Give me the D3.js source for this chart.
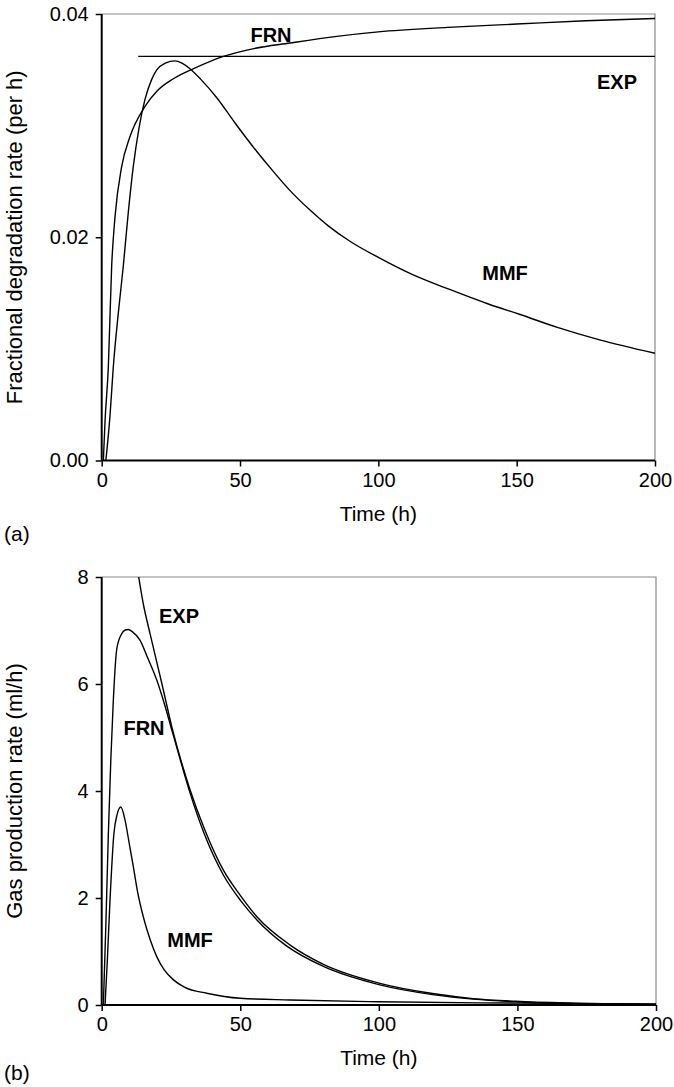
<!DOCTYPE html>
<html><head><meta charset="utf-8">
<script src="https://cdn.jsdelivr.net/npm/d3@7/dist/d3.min.js"></script>
<style>
body{margin:0;background:#fff;}
svg{display:block;}
text{font-family:"Liberation Sans",Arial,Helvetica,sans-serif;fill:#000;}
</style></head>
<body>
<svg id="chart" width="674" height="1087"></svg>
<script>
// ---------- Data ----------
// Panel (a): fractional degradation rate (per h)
const tFrnA = [0.6, 1.2, 2.4, 3.6, 4.8, 7.2, 10.2, 15.6, 20, 25.9, 35, 44, 55, 68, 85, 100, 125, 150, 175, 200];
const rateFrnA = [0, 0.0035, 0.0084, 0.0174, 0.0218, 0.0263, 0.0290, 0.0317, 0.0331, 0.0342, 0.0353, 0.0362, 0.0369, 0.0374, 0.0380, 0.0384, 0.0388, 0.0391, 0.0394, 0.0396];
const tMmfA = [1.5, 3, 4.2, 6, 7.8, 9.6, 11.4, 13.5, 15.6, 18, 19.9, 23, 26.5, 29, 31.9, 36, 41.6, 48, 56, 62, 68, 75, 82, 90, 100, 112, 126, 140, 151, 165, 180, 200];
const rateMmfA = [0, 0.0040, 0.0084, 0.0132, 0.0174, 0.0222, 0.0263, 0.0298, 0.0323, 0.0341, 0.0350, 0.0356, 0.0358, 0.0356, 0.0351, 0.0341, 0.0325, 0.0303, 0.0277, 0.0259, 0.0242, 0.0225, 0.0210, 0.0196, 0.0182, 0.0167, 0.0153, 0.0140, 0.0131, 0.0119, 0.0108, 0.0096];
const tExpA = [13.2, 200];
const rateExpA = [0.0362, 0.0362];

// Panel (b): gas production rate (ml/h)
const tExpB = [13.2, 15, 17.4, 21.7, 25.3, 31.9, 37, 43.9, 50, 56, 68, 80, 100, 120, 134, 151, 175, 200];
const gasExpB = [8.05, 7.5, 6.95, 6.01, 5.2, 4.02, 3.3, 2.52, 2.05, 1.65, 1.12, 0.76, 0.41, 0.21, 0.12, 0.065, 0.03, 0.012];
const tFrnB = [0.6, 1.5, 2.4, 3.3, 4.2, 5.4, 7, 8.5, 9.6, 11, 13.8, 16.5, 19.9, 22.5, 25.3, 28, 31.9, 37, 43.9, 50, 56, 66.8, 80, 100, 120, 134, 151, 175, 200];
const gasFrnB = [0, 1.5, 3.2, 4.6, 5.7, 6.64, 6.92, 7.01, 7.02, 6.98, 6.82, 6.5, 6.07, 5.65, 5.14, 4.65, 3.96, 3.2, 2.43, 1.96, 1.59, 1.10, 0.72, 0.38, 0.19, 0.11, 0.055, 0.022, 0.008];
const tMmfB = [1.2, 2, 3, 4.4, 5.5, 6.9, 8.4, 10, 11.4, 13, 15, 17.5, 19.9, 22.5, 25.9, 30, 37.9, 50, 68, 100, 150, 200];
const gasMmfB = [0, 0.8, 1.96, 3.2, 3.55, 3.70, 3.46, 3.0, 2.59, 2.1, 1.65, 1.22, 0.90, 0.66, 0.47, 0.33, 0.22, 0.125, 0.094, 0.06, 0.035, 0.02];

const xTicks = [0, 50, 100, 150, 200];
const yTicksA = [0, 0.02, 0.04];
const yTicksB = [0, 2, 4, 6, 8];

// ---------- Drawing ----------
const svg = d3.select("#chart");
const zip = (xs, ys) => xs.map((x, i) => [x, ys[i]]);

function panel(cfg) {
  const x = d3.scaleLinear().domain([0, 200]).range([cfg.left, cfg.right]);
  const y = d3.scaleLinear().domain(cfg.yDomain).range([cfg.bottom, cfg.top]);
  const g = svg.append("g");
  const clipId = "clip" + cfg.id;
  svg.append("clipPath").attr("id", clipId).append("rect")
    .attr("x", cfg.left).attr("y", cfg.top)
    .attr("width", cfg.right - cfg.left).attr("height", cfg.bottom - cfg.top);

  g.append("path")
    .attr("d", `M${cfg.left},${cfg.top}H${cfg.right}V${cfg.bottom}`)
    .attr("fill", "none").attr("stroke", "#8a8a8a").attr("stroke-width", 1.2);

  const line = d3.line().x(d => x(d[0])).y(d => y(d[1])).curve(d3.curveMonotoneX);
  const lines = g.append("g").attr("clip-path", `url(#${clipId})`);
  cfg.series.forEach(s => {
    lines.append("path").attr("d", line(s))
      .attr("fill", "none").attr("stroke", "#000").attr("stroke-width", 1.4);
  });

  const xAxis = g.append("g").attr("transform", `translate(0,${cfg.bottom})`)
    .call(d3.axisBottom(x).tickValues(xTicks).tickSize(6).tickPadding(6).tickFormat(d3.format("d")));
  const yAxis = g.append("g").attr("transform", `translate(${cfg.left},0)`)
    .call(d3.axisLeft(y).tickValues(cfg.yTicks).tickSize(6).tickPadding(7).tickFormat(cfg.yFormat));
  [xAxis, yAxis].forEach(a => {
    a.select(".domain").attr("stroke", "#000").attr("stroke-width", 2);
    a.selectAll(".tick line").attr("stroke", "#000").attr("stroke-width", 1.5);
    a.selectAll("text").attr("font-size", 20).attr("font-family", '"Liberation Sans",Arial,sans-serif').attr("fill", "#000");
  });
  xAxis.select(".domain").attr("d", `M${cfg.left},0H${cfg.right}`);
  yAxis.select(".domain").attr("d", `M0,${cfg.bottom}V${cfg.top}`);

  g.append("text").attr("x", (cfg.left + cfg.right) / 2).attr("y", cfg.bottom + 60)
    .attr("text-anchor", "middle").attr("font-size", 21).text("Time (h)");
  g.append("text")
    .attr("transform", `translate(22,${(cfg.top + cfg.bottom) / 2}) rotate(-90)`)
    .attr("text-anchor", "middle").attr("font-size", 22).text(cfg.yTitle);
  g.append("text").attr("x", 4).attr("y", cfg.letterY).attr("font-size", 21).text(cfg.letter);

  cfg.labels.forEach(l => {
    g.append("text").attr("x", l[1]).attr("y", l[2]).attr("text-anchor", "middle")
      .attr("font-size", 20).attr("font-weight", "bold").text(l[0]);
  });
}

panel({
  id: "a", left: 101.7, right: 655, top: 14, bottom: 460.5,
  yDomain: [0, 0.04], yTicks: yTicksA, yFormat: d3.format(".2f"),
  yTitle: "Fractional degradation rate (per h)", letter: "(a)", letterY: 541,
  series: [zip(tFrnA, rateFrnA), zip(tMmfA, rateMmfA), zip(tExpA, rateExpA)],
  labels: [["FRN", 271, 42], ["EXP", 617, 89], ["MMF", 505, 280]]
});
panel({
  id: "b", left: 101.7, right: 656, top: 577, bottom: 1005,
  yDomain: [0, 8], yTicks: yTicksB, yFormat: d3.format("d"),
  yTitle: "Gas production rate (ml/h)", letter: "(b)", letterY: 1080,
  series: [zip(tExpB, gasExpB), zip(tFrnB, gasFrnB), zip(tMmfB, gasMmfB)],
  labels: [["EXP", 179, 623], ["FRN", 144, 735], ["MMF", 190, 947]]
});
</script>
</body></html>
